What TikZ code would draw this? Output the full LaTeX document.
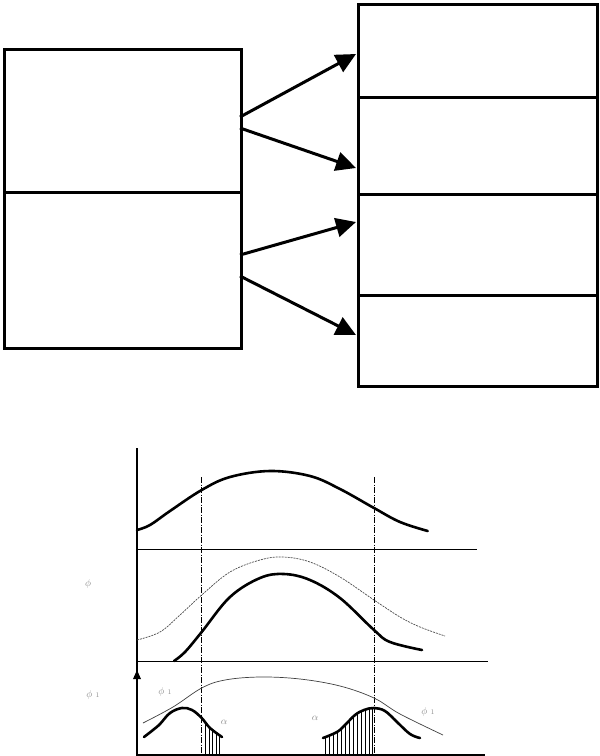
\documentclass[tikz,border=0pt]{standalone}
\usetikzlibrary{arrows.meta}
\begin{document}
\begin{tikzpicture}[x=1pt,y=-1pt,
  cell/.style={draw,line width=3.2pt,rectangle,inner sep=0pt,anchor=north west},
  conn/.style={line width=3pt,-{Triangle[length=20pt,width=19pt]}},
  thick curve/.style={line width=2.6pt,line cap=round},
  thin curve/.style={line width=0.7pt,black!75},
  dotcurve/.style={line width=0.7pt,black!70,dash pattern=on 2pt off 1pt},
  guide/.style={line width=0.6pt,dash pattern=on 6pt off 1.5pt on 1pt off 1.5pt},
  axisline/.style={line width=1.1pt},
  lbl/.style={text=black!45,font=\normalsize,inner sep=0pt},
  hatch/.style={line width=0.6pt}]
\useasboundingbox (0,0) rectangle (600,756);
\fill[white] (0,0) rectangle (600,756);
% left boxes
\node[cell,minimum width=237pt,minimum height=143pt] (lt) at (3,48) {};
\node[cell,minimum width=237pt,minimum height=156pt] (lb) at (3,191) {};
% right boxes
\node[cell,minimum width=239pt,minimum height=93pt] (r1) at (357,3) {};
\node[cell,minimum width=239pt,minimum height=97pt] (r2) at (357,96) {};
\node[cell,minimum width=239pt,minimum height=101pt] (r3) at (357,193) {};
\node[cell,minimum width=239pt,minimum height=91pt] (r4) at (357,294) {};
% connector endpoints
\coordinate (s1) at (240,117);
\coordinate (s2) at (240,128);
\coordinate (s3) at (240,255);
\coordinate (s4) at (240,276);
\coordinate (e1) at (356,54);
\coordinate (e2) at (356,168);
\coordinate (e3) at (356,222);
\coordinate (e4) at (356,335);
\draw[conn] (s1) -- (e1);
\draw[conn] (s2) -- (e2);
\draw[conn] (s3) -- (e3);
\draw[conn] (s4) -- (e4);
% chart axes
\draw[axisline] (137,448) -- (137,755) -- (485,755);
\draw[line width=0.9pt] (137,549) -- (477,549);
\draw[line width=0.9pt] (137,661) -- (488,661);
\fill (133,679) -- (137,670) -- (141,679) -- cycle;
% guides
\draw[guide] (201.7,477) -- (201.7,755);
\draw[guide] (374.3,477) -- (374.3,755);
% top curve
\draw[thick curve] plot[smooth,tension=0.6] coordinates {(137,530) (150,525) (170,511) (201.7,490) (230,477) (270,471) (310,476) (340,489) (374,508) (400,522) (427.7,531)};
% middle curves
\draw[dotcurve] plot[smooth,tension=0.6] coordinates {(137,640) (160,632) (180,615) (201.7,595) (230,572) (260,560) (283,557) (310,562) (340,577) (374,600) (400,617) (420,627) (445,636)};
\draw[thick curve] plot[smooth,tension=0.6] coordinates {(174,661) (185,652) (201.7,632) (230,597) (260,578) (284,574) (310,580) (340,598) (374,630) (390,642) (422,650)};
% lower curves
\draw[thin curve] plot[smooth,tension=0.6] coordinates {(143,723) (173,707) (201.7,688) (225,680) (260,677) (300,679) (340,686) (374,698) (400,714) (443,735)};
\draw[thick curve] plot[smooth,tension=0.6] coordinates {(144,737) (153,730) (160,724) (170,713) (182,708) (192,710) (201.7,718) (210,728) (222,737)};
\draw[thick curve] plot[smooth,tension=0.6] coordinates {(323,738) (337,732) (345,725) (355,715) (364,710) (374,708) (385,711) (397,722) (410,734) (420,738)};
% hatching
\begin{scope}
\clip plot[smooth,tension=0.6] coordinates {(144,737) (153,730) (160,724) (170,713) (182,708) (192,710) (201.7,718) (210,728) (222,737)} -- (222,755) -- (144,755) -- cycle;
\foreach \xx in {205.5,209,212.5,216,219.5,222} \draw[hatch] (\xx,700) -- (\xx,755);
\end{scope}
\begin{scope}
\clip plot[smooth,tension=0.6] coordinates {(323,738) (337,732) (345,725) (355,715) (364,710) (374,708) (385,711) (397,722) (410,734) (420,738)} -- (420,755) -- (323,755) -- cycle;
\foreach \xx in {325,329,333,337,341,345,349,353,357,361,365,369,372} \draw[hatch] (\xx,700) -- (\xx,755);
\end{scope}
% labels
\node[lbl] (l1) at (88,584) {$\phi$};
\node[lbl] (l2) at (93,695) {$\phi$\,\,\scriptsize 1};
\node[lbl] (l3) at (165,692) {$\phi$\,\,\scriptsize 1};
\node[lbl] (l4) at (224,722) {$\alpha$};
\node[lbl] (l5) at (315,718) {$\alpha$};
\node[lbl] (l6) at (428,712) {$\phi$\,\,\scriptsize 1};
\end{tikzpicture}
\end{document}
